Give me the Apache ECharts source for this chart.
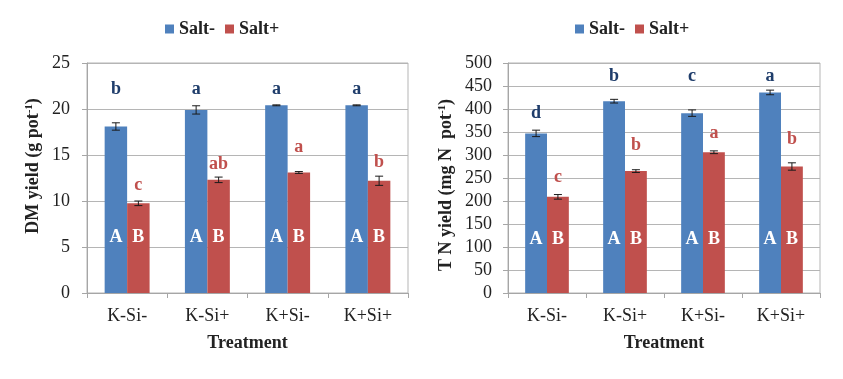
<!DOCTYPE html>
<html>
<head>
<meta charset="utf-8">
<script src="https://cdn.jsdelivr.net/npm/echarts@6/dist/echarts.min.js"></script>
<style>
  html, body { margin: 0; padding: 0; background: #fff; }
  #chart { width: 843px; height: 379px; }
</style>
</head>
<body>
<div id="chart"></div>
<script>
const categories = ['K-Si-', 'K-Si+', 'K+Si-', 'K+Si+']

// DM yield (g pot-1)
const dmSaltMinus = [18.1, 19.9, 20.4, 20.4]
const dmSaltMinusErr = [0.4, 0.45, 0.05, 0.05]
const dmSaltPlus = [9.75, 12.3, 13.1, 12.2]
const dmSaltPlusErr = [0.25, 0.3, 0.1, 0.5]

// T N yield (mg N pot-1)
const tnSaltMinus = [347, 417, 391, 436]
const tnSaltMinusErr = [7, 4, 7, 5]
const tnSaltPlus = [209, 265, 306, 275]
const tnSaltPlusErr = [5, 3, 3, 8]

// significance letters and the height they sit at
const dmLettersMinus = ['b', 'a', 'a', 'a']
const dmLettersMinusY = [22.1, 22.1, 22.1, 22.1]
const dmLettersPlus = ['c', 'ab', 'a', 'b']
const dmLettersPlusY = [11.7, 14.0, 15.8, 14.2]
const tnLettersMinus = ['d', 'b', 'c', 'a']
const tnLettersMinusY = [390, 472, 472, 472]
const tnLettersPlus = ['c', 'b', 'a', 'b']
const tnLettersPlusY = [251, 320, 347, 333]
const capsLetters = ['A', 'B']
const dmCapsY = 6.1
const tnCapsY = 117

const BLUE = '#4f81bd'
const RED = '#c0504d'
const SERIF = '"Liberation Serif", "Times New Roman", serif'
const BAR_SHARE = 0.14 // half of one bar's share of the band

function errorSeries(axis, values, errs, side) {
  return {
    type: 'custom',
    xAxisIndex: axis,
    yAxisIndex: axis,
    z: 10,
    silent: true,
    data: values.map((v, i) => [i, v, errs[i]]),
    renderItem(params, api) {
      const i = api.value(0)
      const v = api.value(1)
      const e = api.value(2)
      const bw = api.size([1, 0])[0]
      const x = api.coord([i, v])[0] + side * bw * BAR_SHARE
      const hi = api.coord([i, v + e])[1]
      const lo = api.coord([i, v - e])[1]
      const st = { stroke: '#1a1a1a', lineWidth: 1 }
      return {
        type: 'group',
        children: [
          { type: 'line', shape: { x1: x, y1: hi, x2: x, y2: lo }, style: st },
          { type: 'line', shape: { x1: x - 4, y1: hi, x2: x + 4, y2: hi }, style: st },
          { type: 'line', shape: { x1: x - 4, y1: lo, x2: x + 4, y2: lo }, style: st }
        ]
      }
    }
  }
}

function letterSeries(axis, letters, ys, side, color) {
  return {
    type: 'custom',
    xAxisIndex: axis,
    yAxisIndex: axis,
    z: 11,
    silent: true,
    data: letters.map((t, i) => [i, ys[i], t]),
    renderItem(params, api) {
      const i = api.value(0)
      const bw = api.size([1, 0])[0]
      const p = api.coord([i, api.value(1)])
      return {
        type: 'text',
        x: p[0] + side * bw * BAR_SHARE,
        y: p[1],
        style: {
          text: letters[params.dataIndex],
          fill: color,
          fontSize: 18,
          fontWeight: 'bold',
          fontFamily: SERIF,
          align: 'center',
          verticalAlign: 'middle'
        }
      }
    }
  }
}

function barSeries(name, axis, values, color) {
  return {
    name: name,
    type: 'bar',
    xAxisIndex: axis,
    yAxisIndex: axis,
    data: values,
    barWidth: '28%',
    barGap: '0%',
    itemStyle: { color: color }
  }
}

function xAxisFor(grid) {
  return {
    type: 'category',
    gridIndex: grid,
    data: categories,
    name: 'Treatment',
    nameLocation: 'middle',
    nameGap: 41,
    nameTextStyle: { fontFamily: SERIF, fontWeight: 'bold', fontSize: 18, color: '#222' },
    axisLine: { lineStyle: { color: '#a6a6a6' } },
    axisTick: { show: true, length: 5, lineStyle: { color: '#a6a6a6' } },
    axisLabel: { fontFamily: SERIF, fontSize: 18, color: '#222', margin: 14 }
  }
}

function yAxisFor(grid, max, interval, nameText, gap, pad, labelMargin) {
  return {
    type: 'value',
    gridIndex: grid,
    min: 0,
    max: max,
    interval: interval,
    name: nameText,
    nameLocation: 'middle',
    nameGap: gap,
    nameTextStyle: {
      fontFamily: SERIF, fontWeight: 'bold', fontSize: 18, color: '#222',
      padding: pad,
      rich: {
        b: { fontFamily: SERIF, fontWeight: 'bold', fontSize: 18, color: '#222' },
        sup: { fontFamily: SERIF, fontWeight: 'bold', fontSize: 11, color: '#222', verticalAlign: 'top', padding: [0, 0, 8, 0] }
      }
    },
    axisLine: { show: true, lineStyle: { color: '#a6a6a6' } },
    axisTick: { show: true, length: 5, lineStyle: { color: '#a6a6a6' } },
    axisLabel: { fontFamily: SERIF, fontSize: 18, color: '#222', margin: labelMargin },
    splitLine: { lineStyle: { color: '#b5b5b5' } }
  }
}

const legendStyle = {
  icon: 'rect',
  itemWidth: 9,
  itemHeight: 9,
  itemGap: 10,
  top: 15,
  data: ['Salt-', 'Salt+'],
  textStyle: { fontFamily: SERIF, fontWeight: 'bold', fontSize: 18, color: '#222' }
}

const chart = echarts.init(document.getElementById('chart'), null, { renderer: 'canvas' })
chart.setOption({
  animation: false,
  color: [BLUE, RED],
  legend: [
    Object.assign({}, legendStyle, { left: 160 }),
    Object.assign({}, legendStyle, { left: 570 })
  ],
  grid: [
    { left: 87, top: 63, width: 321, height: 230, show: true, borderColor: '#b5b5b5', borderWidth: 1 },
    { left: 508, top: 63, width: 312, height: 230, show: true, borderColor: '#b5b5b5', borderWidth: 1 }
  ],
  xAxis: [xAxisFor(0), xAxisFor(1)],
  yAxis: [
    yAxisFor(0, 25, 5, '{b|DM yield (g pot}{sup|-1}{b|)}', 44, [0, 0, 0, 24], 17),
    yAxisFor(1, 500, 50, '{b|T N yield (mg N  pot}{sup|-1}{b|)}', 52, [0, 14, 0, 0], 16)
  ],
  series: [
    barSeries('Salt-', 0, dmSaltMinus, BLUE),
    barSeries('Salt+', 0, dmSaltPlus, RED),
    barSeries('Salt-', 1, tnSaltMinus, BLUE),
    barSeries('Salt+', 1, tnSaltPlus, RED),
    errorSeries(0, dmSaltMinus, dmSaltMinusErr, -1),
    errorSeries(0, dmSaltPlus, dmSaltPlusErr, 1),
    errorSeries(1, tnSaltMinus, tnSaltMinusErr, -1),
    errorSeries(1, tnSaltPlus, tnSaltPlusErr, 1),
    letterSeries(0, dmLettersMinus, dmLettersMinusY, -1, '#1f3d6b'),
    letterSeries(0, dmLettersPlus, dmLettersPlusY, 1, RED),
    letterSeries(1, tnLettersMinus, tnLettersMinusY, -1, '#1f3d6b'),
    letterSeries(1, tnLettersPlus, tnLettersPlusY, 1, RED),
    letterSeries(0, categories.map(() => capsLetters[0]), categories.map(() => dmCapsY), -1, '#ffffff'),
    letterSeries(0, categories.map(() => capsLetters[1]), categories.map(() => dmCapsY), 1, '#ffffff'),
    letterSeries(1, categories.map(() => capsLetters[0]), categories.map(() => tnCapsY), -1, '#ffffff'),
    letterSeries(1, categories.map(() => capsLetters[1]), categories.map(() => tnCapsY), 1, '#ffffff')
  ]
})
</script>
</body>
</html>
